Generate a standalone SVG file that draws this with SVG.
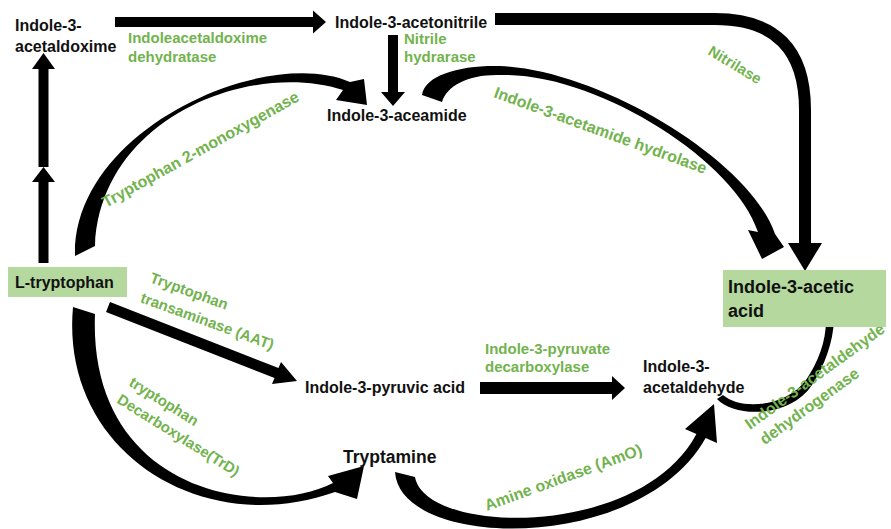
<svg xmlns="http://www.w3.org/2000/svg" width="891" height="529" viewBox="0 0 891 529">
<style>
  .lbl { font-family: "Liberation Sans", Arial, sans-serif; font-weight: bold; font-size: 16px; fill: #111; }
  .big { font-size: 18px; }
  .tam { font-size: 17.5px; }
  .enz { font-family: "Liberation Sans", Arial, sans-serif; font-weight: bold; font-size: 15px; fill: #72b34e; }
  .box { fill: #b4d89e; }
  .arr { fill: #000; stroke: none; }
  .arrline { fill: none; stroke: #000; stroke-width: 12; }
</style>
<rect width="891" height="529" fill="#fff"/>

<g id="connectors">
  <!-- L-tryptophan -> Indole-3-acetaldoxime (two stacked arrows) -->
  <polygon class="arr" points="38.5,263 48.5,263 48.5,182 55,182 43.5,167 32,182 38.5,182"/>
  <polygon class="arr" points="38.5,167 48.5,167 48.5,69 55,69 43.5,53 32,69 38.5,69"/>
  <!-- acetaldoxime -> acetonitrile -->
  <polygon class="arr" points="115,17 313,17 313,10.5 326,22 313,33.5 313,27 115,27"/>
  <!-- acetonitrile -> aceamide -->
  <polygon class="arr" points="388,35 398,35 398,92 405,92 393,106 381,92 388,92"/>
  <!-- acetonitrile -> IAA (Nitrilase) -->
  <path class="arrline" d="M 495,19 H 715 Q 805,19 805,110 V 245"/>
  <polygon class="arr" points="788,243 822,243 805,271"/>
  <!-- L-tryptophan -> aceamide (curved) -->
  <path class="arr" d="M 75,256 C 72,130 265,45 350,82 L 364,79 L 367,105 L 336,100 L 343,90 C 250,60 100,118 95,246 Z"/>
  <!-- aceamide -> IAA (curved) -->
  <path class="arr" d="M 422,95 C 425,75 460,65 500,66 C 600,70 750,160 775,234 L 784,247 L 762,259 L 748,230 L 758,232 C 735,160 595,72 500,75 C 470,74 447,85 442,102 Z"/>
  <!-- L-tryptophan -> Indole-3-pyruvic acid -->
  <polygon class="arr" points="106,312 110,302 278.5,368 281,362 297,381 272,384 274.5,378"/>
  <!-- Indole-3-pyruvic acid -> Indole-3-acetaldehyde -->
  <polygon class="arr" points="480,382 612,382 612,376 625,388 612,400 612,394 480,394"/>
  <!-- L-tryptophan -> Tryptamine (curved) -->
  <path class="arr" d="M 73,307 C 60,450 200,540 335,492 L 357,499 L 364,466 L 328,476 L 333,483 C 260,520 88,492 95,314 Z"/>
  <!-- Tryptamine -> Indole-3-acetaldehyde (curved) -->
  <path class="arr" d="M 395,472 C 400,550 640,555 705.6,438 L 717,443 L 714,404 L 685,429 L 696.4,434 C 640,540 425,535 415,477 Z"/>
  <!-- Indole-3-acetaldehyde -> IAA (curved) -->
  <path class="arr" d="M 717,399 C 735,418 790,418 812,385 C 825,365 833,342 834,320 L 840,319 L 831,299 L 820,320 L 826,320 C 826,342 818,362 806,380 C 785,408 740,410 723,395 Z"/>
</g>

<g id="enzyme-labels">
  <text class="enz" x="128" y="43">Indoleacetaldoxime</text>
  <text class="enz" x="128" y="62">dehydratase</text>
  <text class="enz" x="404" y="44">Nitrile</text>
  <text class="enz" x="404" y="62">hydrarase</text>
  <text class="enz" transform="translate(707,54) rotate(31)">Nitrilase</text>
  <text class="enz" style="font-size:16px" transform="translate(493,97) rotate(20)">Indole-3-acetamide hydrolase</text>
  <text class="enz" style="font-size:16px" transform="translate(106,208) rotate(-29)">Tryptophan 2-monoxygenase</text>
  <g transform="translate(149,282) rotate(20)">
    <text class="enz" x="0" y="0">Tryptophan</text>
    <text class="enz" x="-2" y="22">transaminase (AAT)</text>
  </g>
  <text class="enz" x="485" y="354">Indole-3-pyruvate</text>
  <text class="enz" x="485" y="372">decarboxylase</text>
  <g transform="translate(128,385) rotate(32)">
    <text class="enz" x="0" y="0">tryptophan</text>
    <text class="enz" x="-1" y="21">Decarboxylase(TrD)</text>
  </g>
  <text class="enz" style="font-size:16px" transform="translate(487,511) rotate(-20)">Amine oxidase (AmO)</text>
  <g transform="translate(750,430) rotate(-36)">
    <text class="enz" style="font-size:16px" x="0" y="0">Indole-3-acetaldehyde</text>
    <text class="enz" style="font-size:16px" x="3" y="21">dehydrogenase</text>
  </g>
</g>

<g id="n-acetaldoxime">
  <text class="lbl" x="15" y="31">Indole-3-</text>
  <text class="lbl" x="15" y="52">acetaldoxime</text>
</g>
<g id="n-acetonitrile">
  <text class="lbl" x="335" y="28">Indole-3-acetonitrile</text>
</g>
<g id="n-aceamide">
  <text class="lbl" x="327" y="121">Indole-3-aceamide</text>
</g>
<g id="n-ltryptophan">
  <rect class="box" x="8" y="267" width="119" height="30"/>
  <text class="lbl" x="15" y="288">L-tryptophan</text>
</g>
<g id="n-iaa">
  <rect class="box" x="723" y="270" width="163" height="57"/>
  <text class="lbl big" x="728" y="293">Indole-3-acetic</text>
  <text class="lbl big" x="728" y="317">acid</text>
</g>
<g id="n-pyruvic">
  <text class="lbl" x="305" y="393">Indole-3-pyruvic acid</text>
</g>
<g id="n-acetaldehyde">
  <text class="lbl" x="643" y="372">Indole-3-</text>
  <text class="lbl" x="643" y="393">acetaldehyde</text>
</g>
<g id="n-tryptamine">
  <text class="lbl tam" x="343" y="463">Tryptamine</text>
</g>
</svg>
